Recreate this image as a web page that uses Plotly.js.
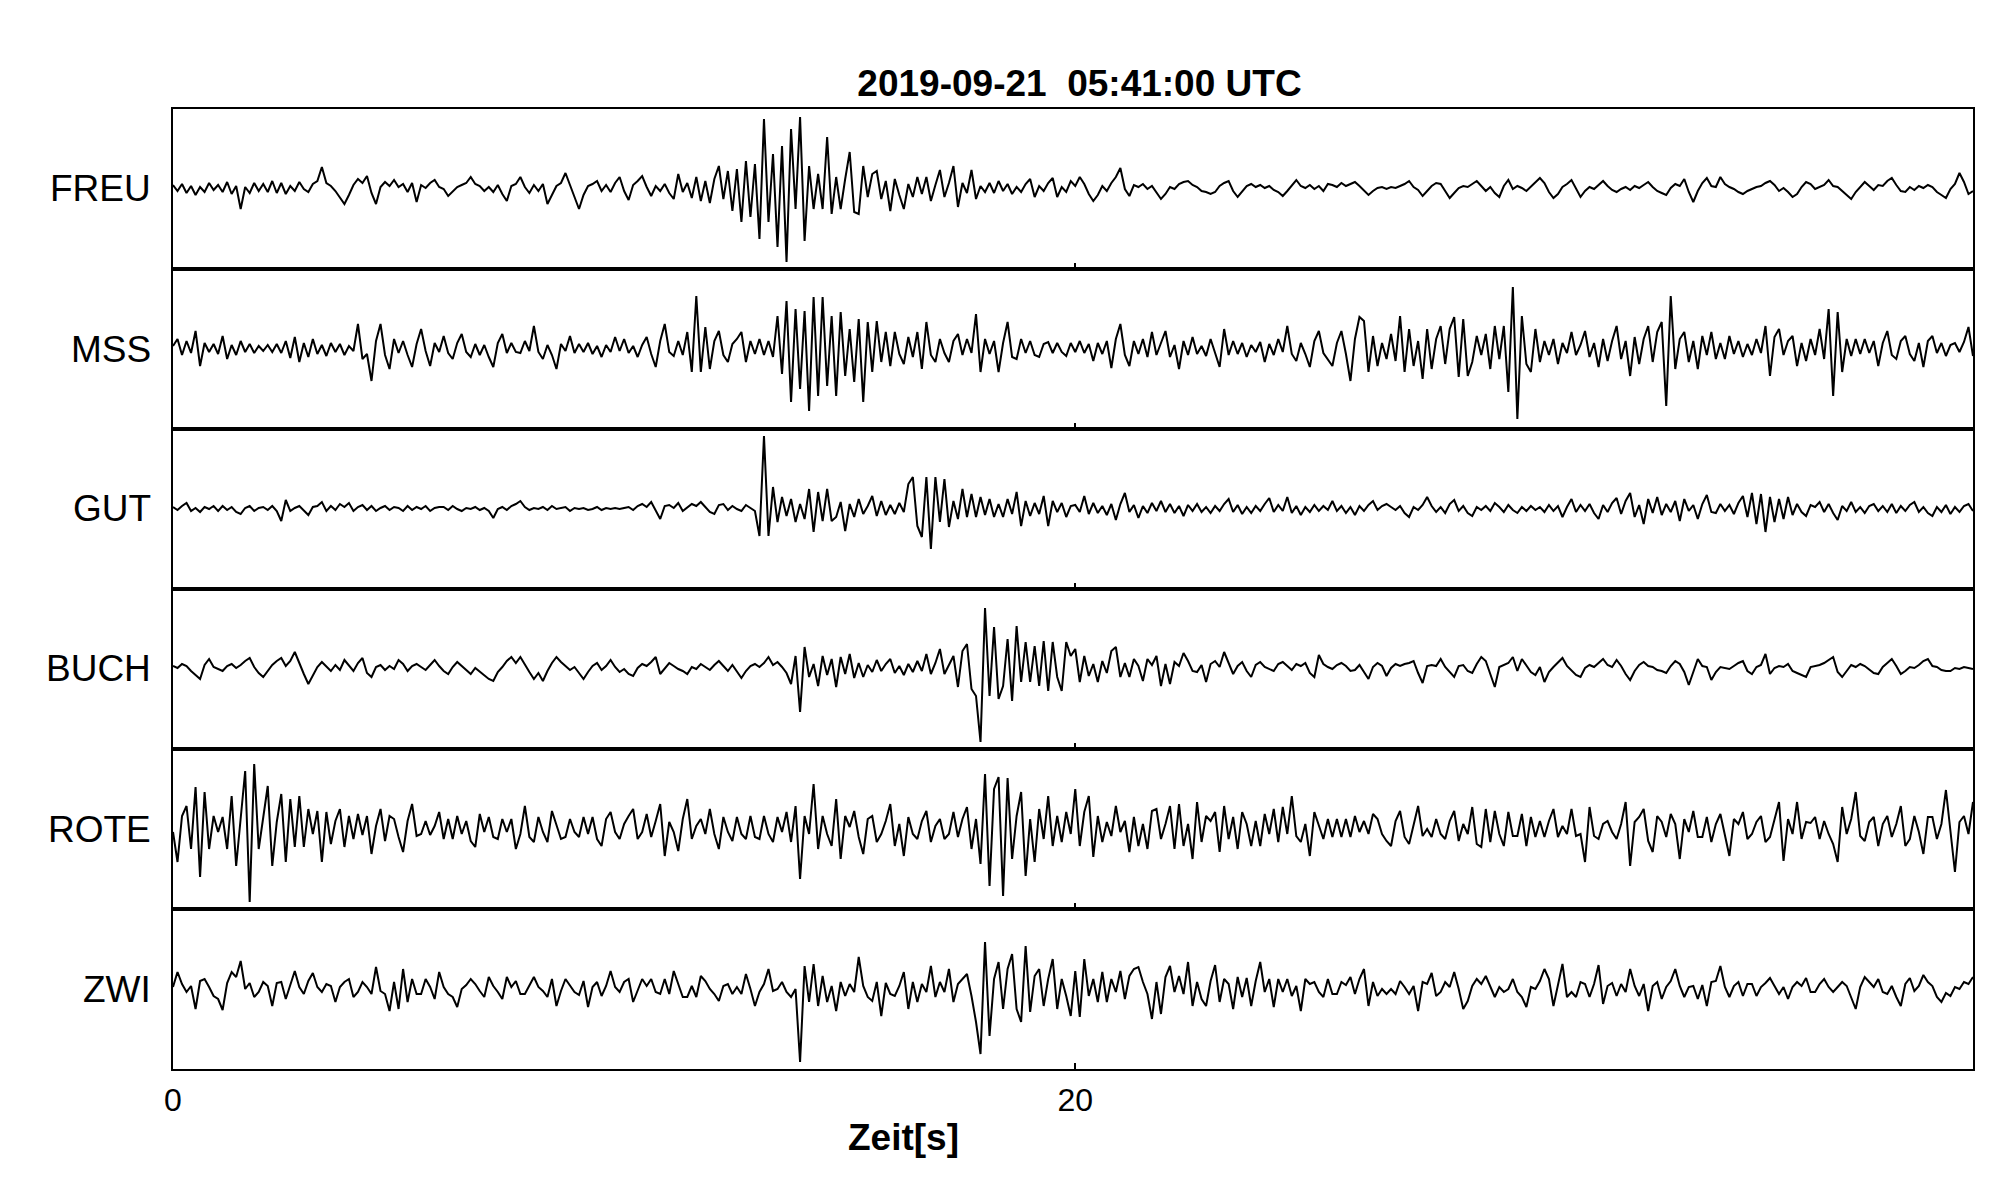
<!DOCTYPE html>
<html><head><meta charset="utf-8">
<script src="https://cdn.plot.ly/plotly-3.0.1.min.js"></script>
<style>html,body{margin:0;padding:0;background:#fff}#chart{width:2005px;height:1202px}</style>
</head><body><div id="chart"></div>
<script>
const STATIONS = ["FREU", "MSS", "GUT", "BUCH", "ROTE", "ZWI"];
const SAMPLE_INTERVAL = 0.1;   // seconds between samples
const X_TICKS = [0, 20];
const TITLE_TEXT = "2019-09-21\u00a0\u00a005:41:00 UTC";
const X_LABEL = "Zeit[s]";

// amplitudes (relative counts, one row = 1 s)
const FREU = [
4,-2,5,-4,3,-6,2,-3,6,-1,
4,-3,7,-5,3,-20,2,-4,6,-2,
5,-3,8,-4,6,-5,3,-2,7,0,
-3,5,8,22,6,3,-2,-8,-15,-6,
4,10,6,13,-4,-15,2,7,3,9,
2,5,-3,6,-13,4,1,6,9,2,
0,-7,-3,2,4,6,12,5,3,-2,
2,-3,4,-5,-12,3,5,12,2,-4,
4,-2,5,-15,-6,3,6,16,4,-8,
-20,-6,3,5,8,-2,4,-3,6,12,
-2,-11,4,8,13,2,-7,3,-2,5,
-4,-10,15,-3,6,-9,12,-12,8,-14,
10,23,-10,18,-22,20,-33,28,-28,25,
-50,70,-33,35,-58,43,-73,60,-20,72,
-52,23,-20,15,-20,52,-25,12,-20,10,
37,-23,-25,23,-8,15,18,-10,8,-22,
10,-6,-20,5,-8,12,-5,12,-12,4,
19,-8,6,23,-18,6,-4,19,-10,3,
-3,6,-4,8,-2,5,-5,2,-3,5,
10,-8,3,-2,6,11,-8,2,-3,8,
3,12,5,-5,-12,-6,3,-2,6,12,
21,0,-7,4,2,5,0,3,-3,-10,
-5,2,0,5,7,8,4,2,-2,-3,
-5,-3,3,6,8,-2,-8,-2,3,5,
2,4,1,3,-1,-3,-7,-2,4,9,
3,1,4,0,3,-2,5,4,2,6,
3,5,7,3,-2,-6,-2,1,2,0,
2,1,3,5,8,2,-1,-7,-2,3,
6,5,-2,-9,-4,1,3,2,5,8,
3,-2,2,-4,-8,3,9,0,3,1,
-2,2,6,11,6,-3,-9,-5,2,5,
9,0,-8,-2,2,0,4,8,3,-1,
-3,0,2,-1,3,1,4,7,2,-2,
-4,-6,1,5,3,10,-3,-13,-2,6,
11,3,2,12,5,2,0,-3,-5,-2,
0,2,3,6,8,4,-2,1,-3,-8,
-5,2,7,5,0,2,4,9,3,2,
-2,-6,-10,-3,2,7,3,-1,4,3,
8,11,4,-2,-3,2,-1,3,1,4,
2,-3,-6,-9,0,5,16,7,-5,-2
];
const MSS = [
3,10,-6,8,-4,18,-17,6,-3,5,
-5,13,-10,4,-6,8,-3,5,-4,3,
-2,4,-3,5,-4,8,-9,12,-13,6,
-8,10,-5,4,-7,6,-3,5,-6,3,
-2,25,-10,-5,-32,8,25,-6,-20,10,
-4,8,-6,-18,5,20,-2,-17,6,-3,
13,-4,-10,6,15,-3,-8,5,-6,4,
-8,-18,6,15,-4,6,-3,-4,8,-2,
23,-3,-10,4,-6,-20,5,-2,13,-4,
5,-3,6,-5,3,-8,4,-3,12,-2,
10,-4,3,-8,4,12,-5,-18,8,25,
-3,-7,8,-6,17,-23,53,-23,22,-20,
8,18,-6,-13,5,10,17,-13,8,-5,
10,-6,8,-8,33,-25,48,-53,40,-40,
38,-62,52,-47,52,-37,33,-47,37,-27,
20,-33,30,-53,27,-23,28,-13,17,-17,
17,-5,-15,12,-8,17,-20,27,-6,-13,
10,-4,-13,8,15,-6,10,-4,35,-23,
10,-5,8,-23,6,27,-8,-10,10,-4,
8,-6,-8,5,7,-4,6,-3,-7,6,
-3,8,-4,5,-12,6,-5,8,-19,10,
25,-6,-17,8,-5,10,-8,17,-6,6,
18,-8,4,-20,8,-6,12,-5,3,-7,
10,-4,-18,20,-6,8,-5,6,-8,4,
-3,7,-13,5,-6,10,-3,23,-5,-12,
6,-5,-18,8,18,-4,-10,-17,6,18,
-5,-32,10,32,28,-23,13,-17,6,-10,
15,-12,33,-23,20,-17,8,-30,20,-20,
10,23,-15,20,32,-28,30,-27,-13,13,
-6,15,-20,23,-10,23,-43,62,-70,33,
-15,-23,20,-13,8,-6,10,-15,6,-4,
17,-6,4,18,-8,6,-18,10,-12,8,
23,-10,8,-27,12,-15,10,23,-13,17,
27,-57,53,-20,10,17,-13,8,-20,13,
-6,17,-10,6,-10,13,-5,8,-8,5,
-6,10,-4,23,-27,12,20,-6,8,13,
-17,6,-12,10,-6,20,-10,40,-47,37,
-23,10,-7,10,-5,10,-4,8,-17,6,
18,-6,-10,8,13,-5,-12,6,-18,8,
13,-4,6,-7,4,6,-3,7,22,-7
];
const GUT = [
2,-1,3,6,-2,1,-3,2,0,3,
-2,3,-1,2,-3,-5,1,3,-2,1,
2,-1,3,-2,-12,9,-2,1,3,-1,
-6,2,3,7,-2,3,-1,5,2,6,
-2,2,4,-1,3,-2,1,3,-1,2,
1,-2,3,-1,2,0,3,-2,1,2,
2,-1,3,0,-2,1,0,2,-1,1,
-2,-9,0,2,-1,3,5,8,2,-1,
1,0,2,-1,3,0,1,2,-2,1,
0,1,-1,0,2,-1,1,0,1,0,
1,2,-1,3,5,2,7,-2,-10,3,
4,1,6,-2,2,5,3,7,2,-3,
-5,4,5,-1,3,0,-2,4,1,-2,
-27,73,-27,22,-13,12,-7,10,-13,5,
-10,20,-23,17,-12,20,-12,-8,7,-22,
5,-8,10,-5,3,13,-7,8,-6,4,
-5,6,-3,25,32,-17,-28,32,-40,32,
-13,30,-18,8,-10,20,-8,15,-8,12,
-6,10,-8,5,-8,10,-5,17,-17,8,
-7,6,-5,13,-17,8,-3,6,-8,3,
4,-3,13,-5,6,-4,3,-6,5,-11,
5,16,-3,4,-9,3,-4,6,-2,8,
-3,5,-4,3,-7,4,-2,5,-3,2,
-4,3,-2,5,10,-3,4,-5,2,-4,
3,-2,5,11,-3,4,-2,12,-4,3,
-6,2,-3,4,-2,3,-1,8,-2,3,
-4,2,-6,3,-2,4,8,-1,3,5,
2,-1,3,-4,-8,2,-1,4,12,3,
-3,2,-4,5,9,-2,3,-4,-7,2,
-1,3,-2,6,2,-3,4,-1,-4,2,
-2,3,-1,2,-3,4,-2,3,-8,2,
10,-3,4,-2,5,-4,-10,4,-3,6,
11,-5,8,16,-8,4,-15,10,-4,12,
-6,5,-3,8,-12,10,-2,4,-10,5,
14,-3,-4,5,-2,4,-5,6,13,-8,
16,-15,15,-23,12,-13,10,-10,12,-6,
5,-3,-7,4,2,7,-3,5,-4,-11,
3,-2,7,-3,2,-4,3,5,-2,3,
-3,5,-4,3,-2,4,7,-3,2,-4,
-7,2,-3,4,-5,2,-3,3,5,-2
];
const BUCH = [
3,1,5,3,-2,-6,-10,4,10,2,
0,-2,3,5,1,4,8,11,2,-4,
-8,-2,4,8,11,3,8,17,5,-5,
-15,-6,2,7,3,-2,4,-1,9,3,
-2,6,11,-4,-8,2,4,-1,3,0,
9,5,-2,3,5,2,-1,4,9,3,
-2,-5,2,7,3,-2,-5,1,-3,-6,
-10,-12,-3,2,8,12,6,12,4,-3,
-10,-4,-12,-2,6,12,7,3,-1,2,
-4,-10,-3,3,6,-1,3,9,2,-3,
0,-5,-7,1,5,3,7,12,-5,1,
6,3,0,-2,-5,2,0,5,2,-1,
4,8,3,-2,4,-3,-9,-2,3,5,
2,6,12,4,7,2,-4,-15,13,-43,
22,-8,5,-17,13,-6,10,-18,12,-5,
15,-9,6,-8,4,-3,9,-2,5,10,
-4,3,-6,5,-3,8,-2,15,-5,6,
20,-5,4,13,-18,18,25,-20,-27,-73,
61,-27,42,-30,-17,30,-32,43,-13,27,
-13,23,-17,28,-22,27,-8,-22,27,13,
20,-13,13,-7,5,-13,8,-4,18,22,
-8,6,-8,10,3,-12,10,4,13,-17,
5,-15,7,3,16,8,-2,-3,4,-13,
5,8,2,17,6,-5,3,7,-2,-8,
4,7,2,0,-2,5,7,3,-1,5,
3,6,-4,-8,14,5,2,0,4,6,
3,-2,-1,4,-3,-10,2,6,3,-7,
1,5,3,5,6,8,-4,-14,3,4,
3,10,2,-3,-8,3,4,-2,-4,5,
12,8,-6,-18,2,4,6,12,-2,10,
3,-3,-6,2,-13,-3,2,6,11,3,
-2,-6,-8,1,4,2,6,10,4,2,
9,3,-5,-11,-2,4,7,3,2,-1,
-2,-4,3,8,5,-3,-16,-4,10,3,
2,-11,-3,2,1,0,3,6,8,-2,
-5,2,4,15,-5,1,3,2,5,-2,
-4,-6,-8,2,3,4,6,9,12,-3,
-8,-2,4,2,5,3,-1,-4,-5,2,
6,10,3,-5,-2,2,1,4,8,10,
3,2,-1,-2,-2,1,0,2,1,0
];
const ROTE = [
-3,-33,13,23,-20,42,-48,37,-20,13,
-3,12,-20,33,-37,13,58,-73,65,-20,
13,43,-37,7,35,-33,30,-18,33,-18,
20,-5,18,-33,17,-15,8,20,-18,13,
-10,15,-6,13,-25,3,20,-12,13,10,
-8,-23,8,25,-7,-5,8,-6,3,17,
-10,10,-10,13,-5,8,-12,-18,15,-3,
12,-8,-10,10,-3,10,-20,-5,23,-8,
-13,12,-3,-13,18,5,-10,-8,10,-3,
-8,12,-5,12,-10,-17,10,17,-3,-10,
5,13,20,-10,-3,15,-8,8,25,-27,
7,-3,-22,10,30,-10,3,10,-5,20,
-5,-20,12,-3,-12,12,-5,-10,13,-8,
-10,13,-5,-13,12,-3,17,-13,23,-50,
13,-5,45,-20,13,-5,-17,30,-30,13,
2,18,-8,-25,10,13,-13,-5,8,25,
-17,5,-27,12,-5,-10,8,18,-13,3,
10,-10,-5,17,-8,10,22,-20,10,-35,
55,-57,40,52,-67,51,-30,13,37,-47,
10,-33,20,-10,33,-17,13,-13,17,-5,
40,-17,17,33,-28,13,-13,7,-7,23,
-3,8,-23,12,-17,5,-20,18,20,-10,
5,23,-20,25,-17,5,-30,27,-13,13,
8,17,-23,23,-10,12,-20,17,5,-17,
8,-17,15,-5,20,-13,22,-5,33,-7,
-13,5,-27,17,3,-10,10,-8,10,-8,
10,-8,13,-3,8,-5,15,10,-5,-12,
-17,8,18,-8,-15,5,23,-7,0,-8,
10,-5,-10,8,18,-12,5,-5,22,-15,
-18,20,-13,18,-5,-17,17,-7,-7,15,
-17,12,-8,8,-8,8,20,-8,3,-5,
20,-7,-5,-33,22,-7,-10,5,8,-3,
-10,5,27,-37,7,12,20,-12,-23,13,
7,-8,15,5,-30,10,-3,18,-8,-8,
12,-13,5,15,-5,-27,10,5,17,-10,
-5,7,13,-13,-8,10,27,-32,10,-5,
27,-10,7,6,12,-10,8,-5,-15,-33,
22,-5,10,37,-7,-12,7,12,-17,5,
13,-8,5,23,-17,-10,13,-3,-25,12,
12,-10,5,39,-3,-43,7,13,-5,27
];
const ZWI = [
2,17,5,-3,3,-20,8,10,2,-7,
-10,-21,6,17,12,28,0,6,-8,-3,
7,3,-17,6,7,-10,4,18,2,-5,
8,16,2,-3,5,3,-13,2,7,10,
-8,-3,7,2,-5,22,-2,-5,-22,7,
-20,20,-13,10,-5,-5,10,2,-10,17,
2,-5,-8,-18,0,4,10,5,-2,-8,
12,3,-3,-10,12,2,8,-5,-5,3,
12,2,-2,-8,10,-17,-2,10,4,-3,
-6,8,-18,2,7,-7,3,18,2,-3,
7,10,-13,-2,10,3,10,-3,-5,10,
-5,18,5,-8,-8,3,-8,13,8,0,
-5,-12,3,5,-5,2,-5,15,0,-17,
-3,5,20,-2,0,7,-3,-8,0,-73,
23,-13,25,-17,13,-13,3,-22,7,-7,
5,-3,32,3,-8,-12,7,-27,6,-5,
-7,3,17,-20,7,-13,5,-3,23,-8,
7,-3,20,-13,5,10,15,-7,-33,-65,
47,-47,10,27,-20,20,35,-20,-33,43,
-23,13,20,-17,10,30,-20,10,-7,-27,
18,-28,30,-7,10,-13,17,-13,10,-3,
18,-10,13,20,22,7,-5,-30,7,-25,
12,23,-3,13,-5,27,-17,7,-10,-17,
8,24,-13,10,5,-20,12,-8,11,-17,
8,27,-3,10,-18,10,-3,10,-7,3,
-22,10,5,7,-3,-8,10,-5,-5,7,
4,12,-5,10,20,-17,7,-7,0,-5,
0,-5,8,2,-5,3,-22,7,5,16,
-7,-3,7,2,17,0,-20,-12,3,10,
5,13,3,-8,2,-3,0,10,-3,-8,
-18,2,0,8,20,10,-17,5,25,-8,
-3,-8,7,5,-8,5,24,-15,3,6,
-7,5,-3,20,3,-7,5,-22,3,7,
-10,2,8,20,3,-8,2,3,-10,4,
-17,7,8,23,2,-8,3,7,-7,5,
5,-7,2,6,11,3,-5,2,-10,2,
7,3,11,-3,-3,5,10,2,-3,2,
7,3,-8,-20,2,12,7,2,10,-3,
-5,3,-8,-17,5,11,-2,3,14,7,
3,-8,-13,-4,-7,2,0,7,5,12
];

const SERIES = [FREU, MSS, GUT, BUCH, ROTE, ZWI];
const Y_RANGE = [-80, 80];

const FONT = "Liberation Sans, Arial, Helvetica, sans-serif";
const N = STATIONS.length;
const traces = [];
const annotations = [];
const layout = {
  width: 2005, height: 1202,
  margin: {l: 173, r: 32, t: 109, b: 133, pad: 0},
  paper_bgcolor: "#fff", plot_bgcolor: "#fff",
  showlegend: false,
  font: {family: FONT, color: "#000"},
  title: {
    text: "<b>" + TITLE_TEXT + "</b>",
    font: {family: FONT, size: 37, color: "#000"},
    x: 0.5036, xref: "paper", xanchor: "center",
    y: 1 - 83 / 1202, yref: "container", yanchor: "middle"
  }
};

SERIES.forEach((vals, i) => {
  const sfx = i === 0 ? "" : String(i + 1);
  const t = vals.map((_, k) => +(k * SAMPLE_INTERVAL).toFixed(2));
  traces.push({
    type: "scatter", mode: "lines",
    x: t, y: vals,
    xaxis: "x" + sfx, yaxis: "y" + sfx,
    line: {color: "#000", width: 2},
    hoverinfo: "skip"
  });
  const top = 1 - i / N, bottom = 1 - (i + 1) / N;
  layout["xaxis" + sfx] = {
    domain: [0, 1], anchor: "y" + sfx,
    range: [0, (vals.length - 1) * SAMPLE_INTERVAL],
    showline: true, linecolor: "#000", linewidth: 2, mirror: true,
    ticks: "inside", ticklen: 6, tickwidth: 2, tickcolor: "#000",
    tickvals: X_TICKS, showticklabels: i === N - 1,
    tickfont: {family: FONT, size: 32, color: "#000"},
    ticklabelstandoff: 2,
    showgrid: false, zeroline: false, fixedrange: true
  };
  if (i > 0) layout["xaxis" + sfx].matches = "x";
  layout["yaxis" + sfx] = {
    domain: [bottom, top], anchor: "x" + sfx, range: Y_RANGE,
    showline: true, linecolor: "#000", linewidth: 2, mirror: true,
    ticks: "", showticklabels: false,
    showgrid: false, zeroline: false, fixedrange: true
  };
  annotations.push({
    text: STATIONS[i], xref: "paper", yref: "paper",
    x: 0, y: (top + bottom) / 2, xanchor: "right", yanchor: "middle",
    xshift: -20, showarrow: false,
    font: {family: FONT, size: 37, color: "#000"}
  });
});

annotations.push({
  text: "<b>" + X_LABEL + "</b>", xref: "paper", yref: "paper",
  x: (903 - 173) / 1800, y: 0, xanchor: "center", yanchor: "middle",
  yshift: -68, showarrow: false,
  font: {family: FONT, size: 37, color: "#000"}
});
layout.annotations = annotations;

Plotly.newPlot("chart", traces, layout, {staticPlot: true, displayModeBar: false});
</script>
</body></html>
